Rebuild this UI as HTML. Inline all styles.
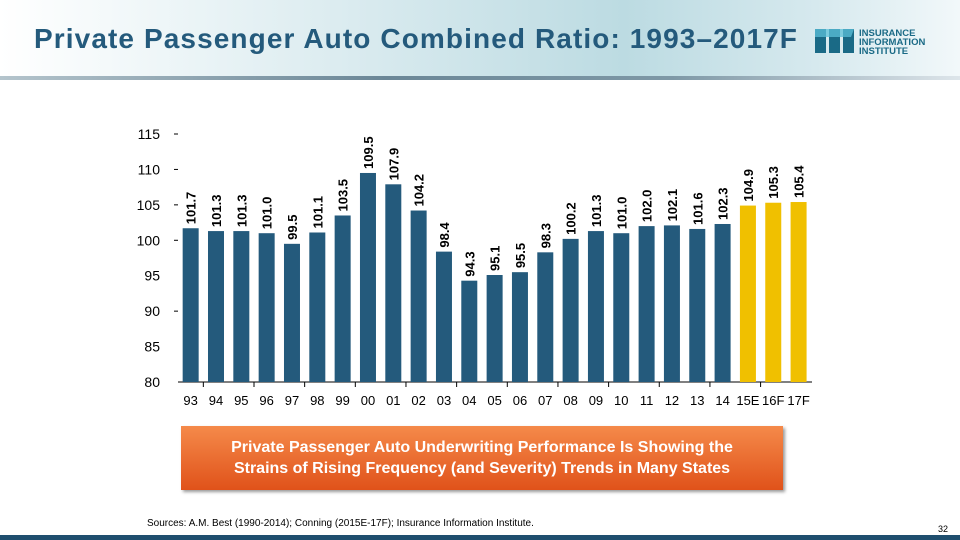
<!DOCTYPE html>
<html><head><meta charset="utf-8"><style>
body{margin:0;width:960px;height:540px;overflow:hidden;background:#fff;font-family:"Liberation Sans",Arial,sans-serif;position:relative}
#hdr{position:absolute;left:0;top:0;width:960px;height:78px;background:linear-gradient(90deg,#ffffff 0%,#dcecf0 35%,#bcdbe2 65%,#d6e9ee 85%,#f2f8fa 100%)}
#hdr-line{position:absolute;left:0;top:76px;width:960px;height:4px;background:linear-gradient(90deg,#b4c4cc,#6b8797 40%,#7e98a6 70%,#dde5ea)}
#title{position:absolute;left:34px;top:23px;font-size:28px;letter-spacing:1.1px;font-weight:bold;color:#245a7c;white-space:nowrap}
#logo{position:absolute;left:815px;top:25px}
#callout{position:absolute;left:181px;top:426px;width:602px;height:64px;background:linear-gradient(180deg,#f58a4a,#e0521a);box-shadow:2px 2px 3px #999;color:#fff;font-weight:bold;font-size:16px;text-align:center;line-height:21px;box-sizing:border-box;padding-top:11px}
#src{position:absolute;left:147px;top:518px;font-size:10px;color:#000}
#pg{position:absolute;left:938px;top:524px;font-size:9px;color:#000}
#foot{position:absolute;left:0;top:535px;width:960px;height:5px;background:#1f4e6e}
</style></head><body>
<div id="hdr"></div>
<div id="hdr-line"></div>
<div id="title">Private Passenger Auto Combined Ratio: 1993–2017F</div>
<svg id="logo" width="135" height="32">
<rect x="0" y="4" width="11" height="24" fill="#1a6a86"/><rect x="14" y="4" width="11" height="24" fill="#1a6a86"/><rect x="28" y="4" width="11" height="24" fill="#1a6a86"/>
<polygon points="0,4 39,4 36,12 0,12" fill="#5cc0d8" opacity=".75"/>
<text x="44" y="11" font-size="9.5" font-weight="bold" fill="#1a6a86">INSURANCE</text>
<text x="44" y="20" font-size="9.5" font-weight="bold" fill="#1a6a86">INFORMATION</text>
<text x="44" y="29" font-size="9.5" font-weight="bold" fill="#1a6a86">INSTITUTE</text>
</svg>
<svg id="chart" width="960" height="540" style="position:absolute;left:0;top:0"></svg>
<div id="callout">Private Passenger Auto Underwriting Performance Is Showing the<br>Strains of Rising Frequency (and Severity) Trends in Many States</div>
<div id="src">Sources: A.M. Best (1990-2014); Conning (2015E-17F); Insurance Information Institute.</div>
<div id="pg">32</div>
<div id="foot"></div>
<script>
const categories=["93","94","95","96","97","98","99","00","01","02","03","04","05","06","07","08","09","10","11","12","13","14","15E","16F","17F"];
const values=[101.7,101.3,101.3,101.0,99.5,101.1,103.5,109.5,107.9,104.2,98.4,94.3,95.1,95.5,98.3,100.2,101.3,101.0,102.0,102.1,101.6,102.3,104.9,105.3,105.4];
const labels=["101.7","101.3","101.3","101.0","99.5","101.1","103.5","109.5","107.9","104.2","98.4","94.3","95.1","95.5","98.3","100.2","101.3","101.0","102.0","102.1","101.6","102.3","104.9","105.3","105.4"];
const forecast=[false,false,false,false,false,false,false,false,false,false,false,false,false,false,false,false,false,false,false,false,false,false,true,true,true];
const yTicks=[80,85,90,95,100,105,110,115];
const NS="http://www.w3.org/2000/svg";
const svg=document.getElementById('chart');
const y0=382,y1=134,yMin=80,yMax=115;
function yS(v){return y0-(v-yMin)/(yMax-yMin)*(y0-y1);}
const xL=178,step=25.33;
function xS(i){return xL+step*(i+0.5);}
function mk(t,a){const e=document.createElementNS(NS,t);for(const k in a)e.setAttribute(k,a[k]);svg.appendChild(e);return e;}
yTicks.forEach(v=>{
 const t=mk('text',{x:160,y:yS(v)+5,'text-anchor':'end','font-size':14,fill:'#000'});t.textContent=v;
 
 
 if(v!==80&&v!==95&&v!==85){const l=mk('line',{x1:174,x2:178,y1:yS(v),y2:yS(v),stroke:'#000'});
 
 }
});
const ax=mk('line',{x1:178,x2:812,y1:y0,y2:y0,stroke:'#000','stroke-width':1});


categories.forEach((c,i)=>{
 const v=values[i],x=xS(i),w=16;
 const r=mk('rect',{x:x-w/2,y:yS(v),width:w,height:y0-yS(v),fill:forecast[i]?'#f0c000':'#245a7c'});
 
 
 const lx=x+5,ly=yS(v)-4;
 const t=mk('text',{x:lx,y:ly,transform:`rotate(-90 ${lx} ${ly})`,'font-size':13,'font-weight':'bold',fill:'#000'});t.textContent=labels[i];
 
 
 const xt=mk('text',{x:x,y:y0+23,'text-anchor':'middle','font-size':13,fill:'#000'});xt.textContent=c;
 
 
 if(i%2===0&&i<24){const tk=mk('line',{x1:x+step/2,x2:x+step/2,y1:y0,y2:y0+5,stroke:'#000'});
 
 }
});
</script>
</body></html>
